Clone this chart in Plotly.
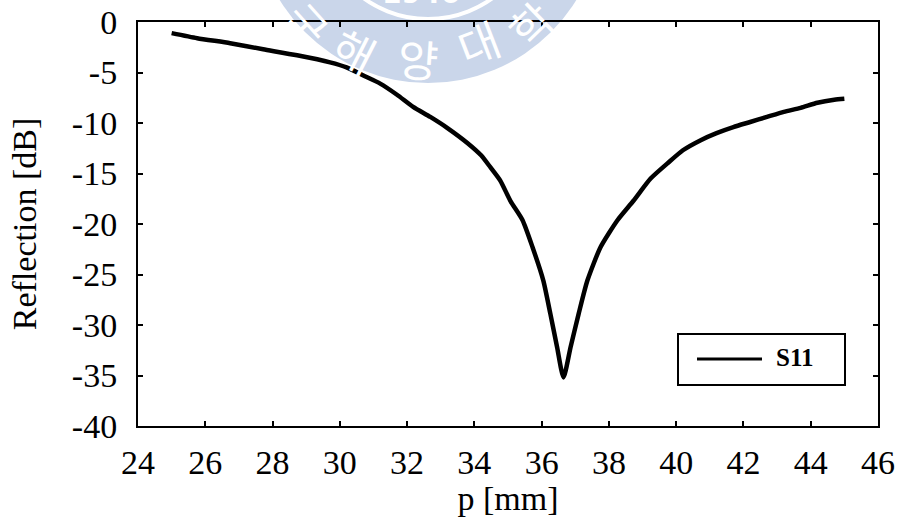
import plotly.graph_objects as go

# ---- data ----
p_mm = [25.0, 25.76, 26.74, 27.72, 28.73, 29.71, 30.2, 30.7, 31.2, 31.7, 32.18, 32.69,
        33.2, 33.8, 34.2, 34.48, 34.77, 35.07, 35.43, 35.73, 36.05, 36.26, 36.46, 36.65,
        36.86, 37.1, 37.36, 37.75, 38.26, 38.73, 39.24, 39.74, 40.2, 40.73, 41.2, 41.7,
        42.2, 42.7, 43.2, 43.7, 44.2, 44.7, 45.0]
s11_db = [-1.1, -1.6, -2.1, -2.7, -3.3, -4.0, -4.5, -5.3, -6.1, -7.2, -8.4, -9.4,
          -10.5, -12.0, -13.2, -14.4, -15.7, -17.7, -19.6, -22.3, -25.6, -28.9, -32.2, -35.2,
          -32.2, -28.9, -25.6, -22.3, -19.6, -17.7, -15.5, -14.0, -12.7, -11.7, -11.0, -10.4,
          -9.9, -9.4, -8.9, -8.5, -8.0, -7.7, -7.6]
x_ticks = [24, 26, 28, 30, 32, 34, 36, 38, 40, 42, 44, 46]
y_ticks = [0, -5, -10, -15, -20, -25, -30, -35, -40]
series_name = "S11"
watermark_chars = ["국", "해", "양", "대", "학"]
watermark_year = "1946"

FONT = "Liberation Serif, Times New Roman, serif"

fig = go.Figure()
fig.add_trace(go.Scatter(
    x=p_mm, y=s11_db, mode="lines", name=series_name, showlegend=False,
    line=dict(color="black", width=4.5, shape="spline", smoothing=0.6),
))

# plot area in pixels: x 138..878, y 22..426
L, R, T, B = 138, 21, 22, 91
W, H = 899 - L - R, 517 - T - B

def px(x):
    return (x - L) / W

def py(y):
    return (517 - B - y) / H

# faint watermark seal (light blue disc, white lettering)
wm_blue = "#cad6ea"
cx, cy, r_out, r_in = 428, -91, 174, 110
fig.add_shape(type="circle", xref="paper", yref="paper",
              x0=px(cx - r_out), x1=px(cx + r_out), y0=py(cy + r_out), y1=py(cy - r_out),
              line=dict(width=0), fillcolor=wm_blue, layer="below")
fig.add_shape(type="circle", xref="paper", yref="paper",
              x0=px(cx - r_in), x1=px(cx + r_in), y0=py(cy + r_in), y1=py(cy - r_in),
              line=dict(width=4, color="white"), layer="below")
wm_pos = [(307, 24, 48), (355, 50, 27), (418, 58, 4), (478, 42, -21), (530, 24, -44)]
for ch, (x, y, a) in zip(watermark_chars, wm_pos):
    fig.add_annotation(text=ch, x=px(x), y=py(y), xref="paper", yref="paper",
                       xanchor="center", yanchor="middle",
                       showarrow=False, textangle=a,
                       font=dict(family="Noto Sans CJK KR", size=44, color="white"))
fig.add_annotation(text="<b>" + watermark_year + "</b>", x=px(421), y=py(-6),
                   xref="paper", yref="paper", xanchor="center", yanchor="middle",
                   showarrow=False,
                   font=dict(family="DejaVu Sans", size=28, color="white"))

# legend box drawn to match the reference's long sample line
fig.add_shape(type="rect", xref="paper", yref="paper",
              x0=px(678), x1=px(845), y0=py(385), y1=py(334),
              line=dict(color="black", width=2), fillcolor="white")
fig.add_shape(type="line", xref="paper", yref="paper",
              x0=px(697), x1=px(762), y0=py(359), y1=py(359),
              line=dict(color="black", width=3))
fig.add_annotation(text="<b>" + series_name + "</b>", x=px(774), y=py(357),
                   xref="paper", yref="paper", xanchor="left", yanchor="middle",
                   showarrow=False,
                   font=dict(family=FONT, size=25, color="black"))

axis_common = dict(
    showline=True, linecolor="black", linewidth=2, mirror="ticks",
    ticks="inside", ticklen=5, tickwidth=1.5, tickcolor="black",
    showgrid=False, zeroline=False, automargin=False,
    tickfont=dict(family=FONT, size=34, color="black"),
)

fig.update_layout(
    width=899, height=517,
    margin=dict(l=L, r=R, t=T, b=B),
    paper_bgcolor="white", plot_bgcolor="rgba(0,0,0,0)",
    xaxis=dict(range=[24, 46], tickvals=x_ticks, ticktext=[str(v) for v in x_ticks],
               ticklabelstandoff=5,
               title=dict(text="p [mm]", font=dict(family=FONT, size=34, color="black"),
                          standoff=0),
               **axis_common),
    yaxis=dict(range=[-40, 0], tickvals=y_ticks, ticktext=[str(v) for v in y_ticks],
               ticklabelstandoff=12,
               title=dict(text="Reflection [dB]", font=dict(family=FONT, size=34, color="black"),
                          standoff=25),
               **axis_common),
    showlegend=False,
)

fig.write_html("out.html", config={"displayModeBar": False},
               post_script="document.body.style.margin='0';")
